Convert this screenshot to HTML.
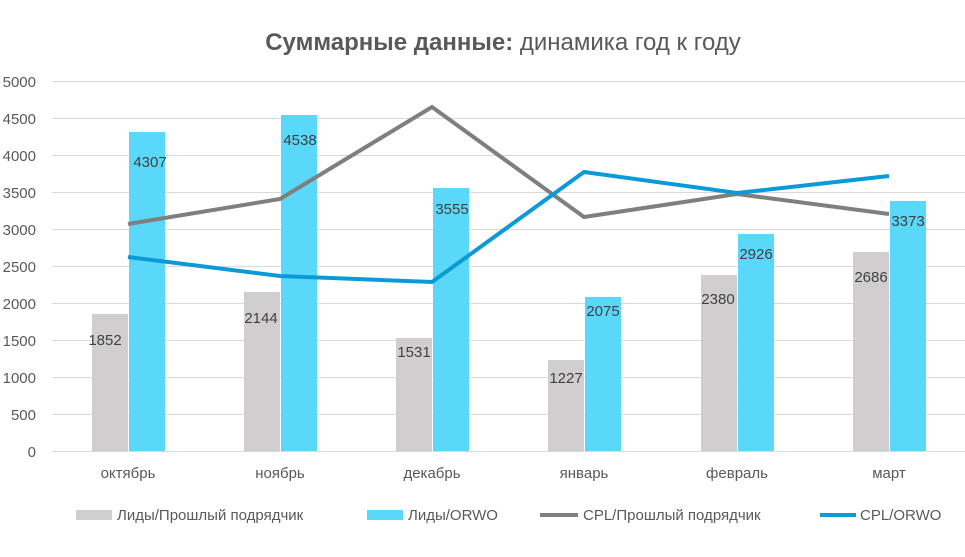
<!DOCTYPE html>
<html><head><meta charset="utf-8"><style>
body{margin:0;background:#fff;}
svg text{font-family:"Liberation Sans","DejaVu Sans",sans-serif;}
</style></head><body>
<svg width="965" height="552" viewBox="0 0 965 552" xmlns="http://www.w3.org/2000/svg">
<rect width="965" height="552" fill="#fff"/>
<text x="503" y="50" text-anchor="middle" font-size="24" fill="#595959"><tspan font-weight="bold">Суммарные данные:</tspan> динамика год к году</text>
<g stroke="#d9d9d9" stroke-width="1">
<line x1="52" y1="81.5" x2="965" y2="81.5"/><line x1="52" y1="118.5" x2="965" y2="118.5"/>
<line x1="52" y1="155.5" x2="965" y2="155.5"/><line x1="52" y1="192.5" x2="965" y2="192.5"/>
<line x1="52" y1="229.5" x2="965" y2="229.5"/><line x1="52" y1="266.5" x2="965" y2="266.5"/>
<line x1="52" y1="303.5" x2="965" y2="303.5"/><line x1="52" y1="340.5" x2="965" y2="340.5"/>
<line x1="52" y1="377.5" x2="965" y2="377.5"/><line x1="52" y1="414.5" x2="965" y2="414.5"/>
<line x1="52" y1="451.5" x2="965" y2="451.5"/>
</g>
<g font-size="15" fill="#595959" text-anchor="end">
<text x="36" y="87">5000</text><text x="36" y="124">4500</text><text x="36" y="161">4000</text>
<text x="36" y="198">3500</text><text x="36" y="235">3000</text><text x="36" y="272">2500</text>
<text x="36" y="309">2000</text><text x="36" y="346">1500</text><text x="36" y="383">1000</text>
<text x="36" y="420">500</text><text x="36" y="457">0</text>
</g>
<g fill="#d0cece">
<rect x="92" y="314" width="36" height="137"/><rect x="244" y="292" width="36" height="159"/>
<rect x="396" y="338" width="36" height="113"/><rect x="548" y="360" width="36" height="91"/>
<rect x="701" y="275" width="36" height="176"/><rect x="853" y="252" width="36" height="199"/>
</g>
<g fill="#5ad8f9">
<rect x="129" y="132" width="36" height="319"/><rect x="281" y="115" width="36" height="336"/>
<rect x="433" y="188" width="36" height="263"/><rect x="585" y="297" width="36" height="154"/>
<rect x="738" y="234" width="36" height="217"/><rect x="890" y="201" width="36" height="250"/>
</g>
<polyline fill="none" stroke="#7f7f7f" stroke-width="4" points="128,224 280,199 432,107 584,217 737,194 889,214"/>
<polyline fill="none" stroke="#0b9ad8" stroke-width="4" points="128,257 280,276 432,282 584,172 737,193 889,176"/>
<g font-size="15" fill="#404040" text-anchor="middle">
<text x="105" y="345">1852</text><text x="150" y="167">4307</text>
<text x="261" y="323">2144</text><text x="300" y="145">4538</text>
<text x="414" y="357">1531</text><text x="452" y="214">3555</text>
<text x="566" y="383">1227</text><text x="603" y="316">2075</text>
<text x="718" y="304">2380</text><text x="756" y="259">2926</text>
<text x="871" y="282">2686</text><text x="908" y="226">3373</text>
</g>
<g font-size="15" fill="#595959" text-anchor="middle">
<text x="128" y="478">октябрь</text><text x="280" y="478">ноябрь</text><text x="432" y="478">декабрь</text>
<text x="584" y="478">январь</text><text x="737" y="478">февраль</text><text x="889" y="478">март</text>
</g>
<g font-size="15" fill="#595959">
<rect x="76" y="510" width="36" height="10" fill="#d0cece"/><text x="117" y="520">Лиды/Прошлый подрядчик</text>
<rect x="367" y="510" width="36" height="10" fill="#5ad8f9"/><text x="408" y="520">Лиды/ORWO</text>
<line x1="540" y1="515" x2="578" y2="515" stroke="#7f7f7f" stroke-width="4"/><text x="583" y="520">CPL/Прошлый подрядчик</text>
<line x1="820" y1="515" x2="856" y2="515" stroke="#0b9ad8" stroke-width="4"/><text x="860" y="520">CPL/ORWO</text>
</g>
</svg>
</body></html>
